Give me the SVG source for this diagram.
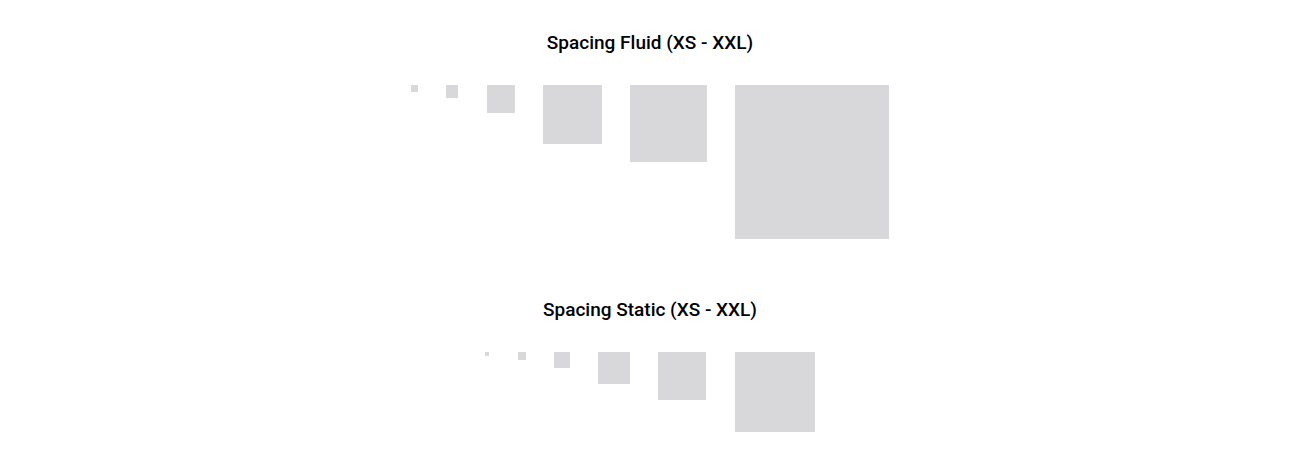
<svg xmlns="http://www.w3.org/2000/svg" width="1300" height="461" viewBox="0 0 1300 461">
<style>
.t{font-family:Roboto,"Liberation Sans",sans-serif;font-size:19px;font-weight:500;fill:#010205;text-anchor:middle}
.s{fill:#D8D8DB}
</style>
<rect width="1300" height="461" fill="#fff"/>
<g id="fluid">
<text class="t" x="650" y="49">Spacing Fluid (XS - XXL)</text>
<rect class="s" x="411" y="85" width="7" height="7"/>
<rect class="s" x="446" y="85" width="12" height="13"/>
<rect class="s" x="487" y="85" width="28" height="28"/>
<rect class="s" x="543" y="85" width="59" height="59"/>
<rect class="s" x="630" y="85" width="77" height="77"/>
<rect class="s" x="735" y="85" width="154" height="154"/>
</g>
<g id="static">
<text class="t" x="650" y="316">Spacing Static (XS - XXL)</text>
<rect class="s" x="485" y="352" width="4" height="4"/>
<rect class="s" x="518" y="352" width="8" height="8"/>
<rect class="s" x="554" y="352" width="16" height="16"/>
<rect class="s" x="598" y="352" width="32" height="32"/>
<rect class="s" x="658" y="352" width="48" height="48"/>
<rect class="s" x="735" y="352" width="80" height="80"/>
</g>
</svg>
